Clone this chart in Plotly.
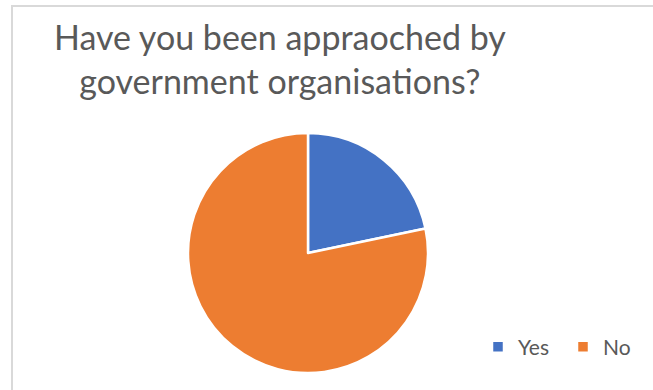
import plotly.graph_objects as go

labels = ["Yes", "No"]
values = [5, 18]
colors = ["#4472C4", "#ED7D31"]
title_text = "Have you been appraoched by<br>government organisations?"

W, H = 653, 390
FONT = "Lato, Carlito, Calibri, sans-serif"

fig = go.Figure(go.Pie(
    labels=labels,
    values=values,
    marker=dict(colors=colors, line=dict(color="white", width=2.5)),
    sort=False,
    direction="clockwise",
    rotation=0,
    textinfo="none",
    hoverinfo="label+value+percent",
    domain=dict(x=[188 / W, 428 / W], y=[(H - 373) / H, (H - 133) / H]),
))

fig.update_layout(
    width=W, height=H,
    margin=dict(l=0, r=0, t=0, b=0),
    paper_bgcolor="white",
    plot_bgcolor="white",
    showlegend=True,
    legend=dict(
        orientation="h",
        x=478 / W, xanchor="left",
        y=1 - 347 / H, yanchor="middle",
        font=dict(family=FONT, size=21, color="#595959"),
        entrywidth=40, entrywidthmode="pixels",
        traceorder="normal",
    ),
    annotations=[dict(
        text=title_text,
        xref="paper", yref="paper",
        x=280 / W, xanchor="center",
        y=1 - 14 / H, yanchor="top",
        showarrow=False,
        align="center",
        font=dict(family=FONT, size=34, color="#595959"),
    )],
    shapes=[dict(
        type="rect", xref="paper", yref="paper",
        x0=12 / W, x1=1.02, y0=-0.02, y1=1 - 6 / H,
        line=dict(color="#D9D9D9", width=2),
        fillcolor="rgba(0,0,0,0)",
        layer="below",
    )],
)

fig.write_html("out.html")
